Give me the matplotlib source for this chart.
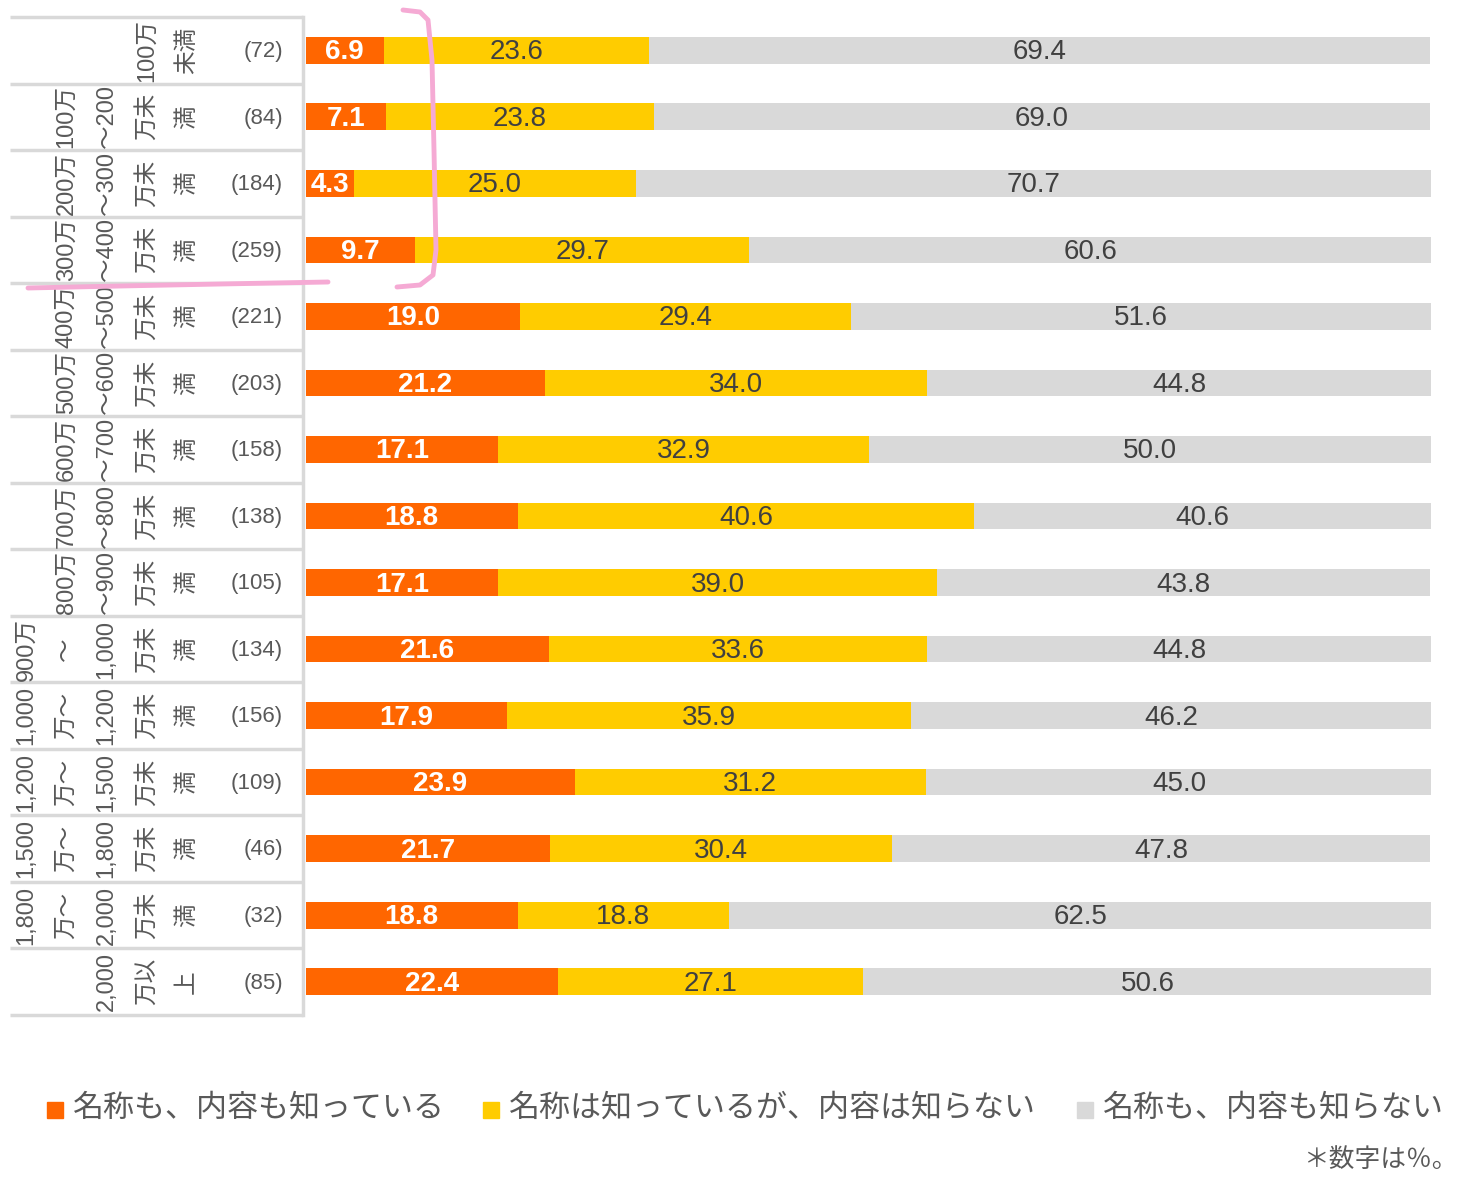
import matplotlib.pyplot as plt
from matplotlib.patches import Rectangle

plt.rcParams['font.family'] = ['Liberation Sans', 'Noto Sans CJK JP', 'DejaVu Sans']

# row labels (wrapped the way the source table wraps them)
groups = [
    "100万\n未満",
    "100万\n～200\n万未\n満",
    "200万\n～300\n万未\n満",
    "300万\n～400\n万未\n満",
    "400万\n～500\n万未\n満",
    "500万\n～600\n万未\n満",
    "600万\n～700\n万未\n満",
    "700万\n～800\n万未\n満",
    "800万\n～900\n万未\n満",
    "900万\n～\n1,000\n万未\n満",
    "1,000\n万～\n1,200\n万未\n満",
    "1,200\n万～\n1,500\n万未\n満",
    "1,500\n万～\n1,800\n万未\n満",
    "1,800\n万～\n2,000\n万未\n満",
    "2,000\n万以\n上",
]
counts = [72, 84, 184, 259, 221, 203, 158, 138, 105, 134, 156, 109, 46, 32, 85]

know_both = [6.9, 7.1, 4.3, 9.7, 19.0, 21.2, 17.1, 18.8, 17.1, 21.6, 17.9, 23.9, 21.7, 18.8, 22.4]
name_only = [23.6, 23.8, 25.0, 29.7, 29.4, 34.0, 32.9, 40.6, 39.0, 33.6, 35.9, 31.2, 30.4, 18.8, 27.1]
neither = [69.4, 69.0, 70.7, 60.6, 51.6, 44.8, 50.0, 40.6, 43.8, 44.8, 46.2, 45.0, 47.8, 62.5, 50.6]

series_names = ["名称も、内容も知っている", "名称は知っているが、内容は知らない", "名称も、内容も知らない"]
colors = ["#FF6600", "#FFCC00", "#D9D9D9"]

W, H = 1458, 1181
fig = plt.figure(figsize=(W / 100, H / 100), dpi=100)

left_px, right_px = 10, 1431
top_px, bottom_px = 17, 1015
ax = fig.add_axes([left_px / W, 1 - bottom_px / H,
                   (right_px - left_px) / W, (bottom_px - top_px) / H])
px_per_unit = (right_px - 306) / 100.0
xmin = (left_px - 306) / px_per_unit
ax.set_xlim(xmin, 100)
ax.set_ylim(len(groups) - 0.5, -0.5)
ax.axis('off')

y = list(range(len(groups)))
starts = [0] * len(groups)
for vals, col in zip([know_both, name_only, neither], colors):
    ax.barh(y, vals, left=starts, height=0.4, color=col, linewidth=0)
    for i, v in enumerate(vals):
        cx = starts[i] + v / 2
        if col == "#FF6600":
            ax.text(cx, i + 0.03, f"{v:.1f}", ha='center', va='center', fontsize=20,
                    color='white', fontweight='bold')
        else:
            ax.text(cx, i + 0.03, f"{v:.1f}", ha='center', va='center', fontsize=20,
                    color='#404040')
    starts = [s + v for s, v in zip(starts, vals)]

# table on the left
line_col = "#D9D9D9"
table_right = (303 - 306) / px_per_unit
for k in range(len(groups) + 1):
    ax.plot([xmin, table_right], [k - 0.5, k - 0.5], color=line_col, lw=2.5,
            solid_capstyle='butt', clip_on=False)
ax.plot([table_right, table_right], [-0.5, len(groups) - 0.5], color=line_col,
        lw=2.5, clip_on=False)

label_x = (198 - 306) / px_per_unit
count_x = (283 - 306) / px_per_unit
for i, (g, n) in enumerate(zip(groups, counts)):
    ax.text(label_x, i, g, rotation=90, ha='right', va='center',
            multialignment='center', fontsize=17, color='#595959',
            linespacing=2.07)
    ax.text(count_x, i + 0.02, f"({n})", ha='right', va='center', fontsize=16,
            color='#595959')

# legend
legend_x = [47, 483, 1077]
for lx, name, col in zip(legend_x, series_names, colors):
    fig.patches.append(Rectangle((lx / W, 1 - 1118 / H), 16 / W, 16 / H,
                                 transform=fig.transFigure, color=col))
    fig.text((lx + 26) / W, 1 - 1108 / H, name, ha='left', va='center',
             fontsize=22.3, color='#595959',
             family=['Noto Sans CJK JP', 'DejaVu Sans'])

fig.text(1458 / W, 1 - 1160 / H, "＊数字は％。", ha='right', va='center',
         fontsize=18.5, color='#595959', family=['Noto Sans CJK JP', 'DejaVu Sans'])

# pink hand-drawn marks
pink = "#F5AAD4"
mark_line_x = [28, 120, 220, 328]
mark_line_y = [288, 286, 284, 282]
bracket_x = [403, 420, 428, 432, 434, 436, 433, 420, 397]
bracket_y = [10, 12, 20, 60, 150, 250, 275, 285, 287]
fig.lines.append(plt.Line2D([v / W for v in mark_line_x],
                            [1 - v / H for v in mark_line_y],
                            transform=fig.transFigure, color=pink, lw=3.5,
                            solid_capstyle='round'))
fig.lines.append(plt.Line2D([v / W for v in bracket_x],
                            [1 - v / H for v in bracket_y],
                            transform=fig.transFigure, color=pink, lw=3.5,
                            solid_capstyle='round', solid_joinstyle='round'))

fig.savefig('out.png', dpi=100)
